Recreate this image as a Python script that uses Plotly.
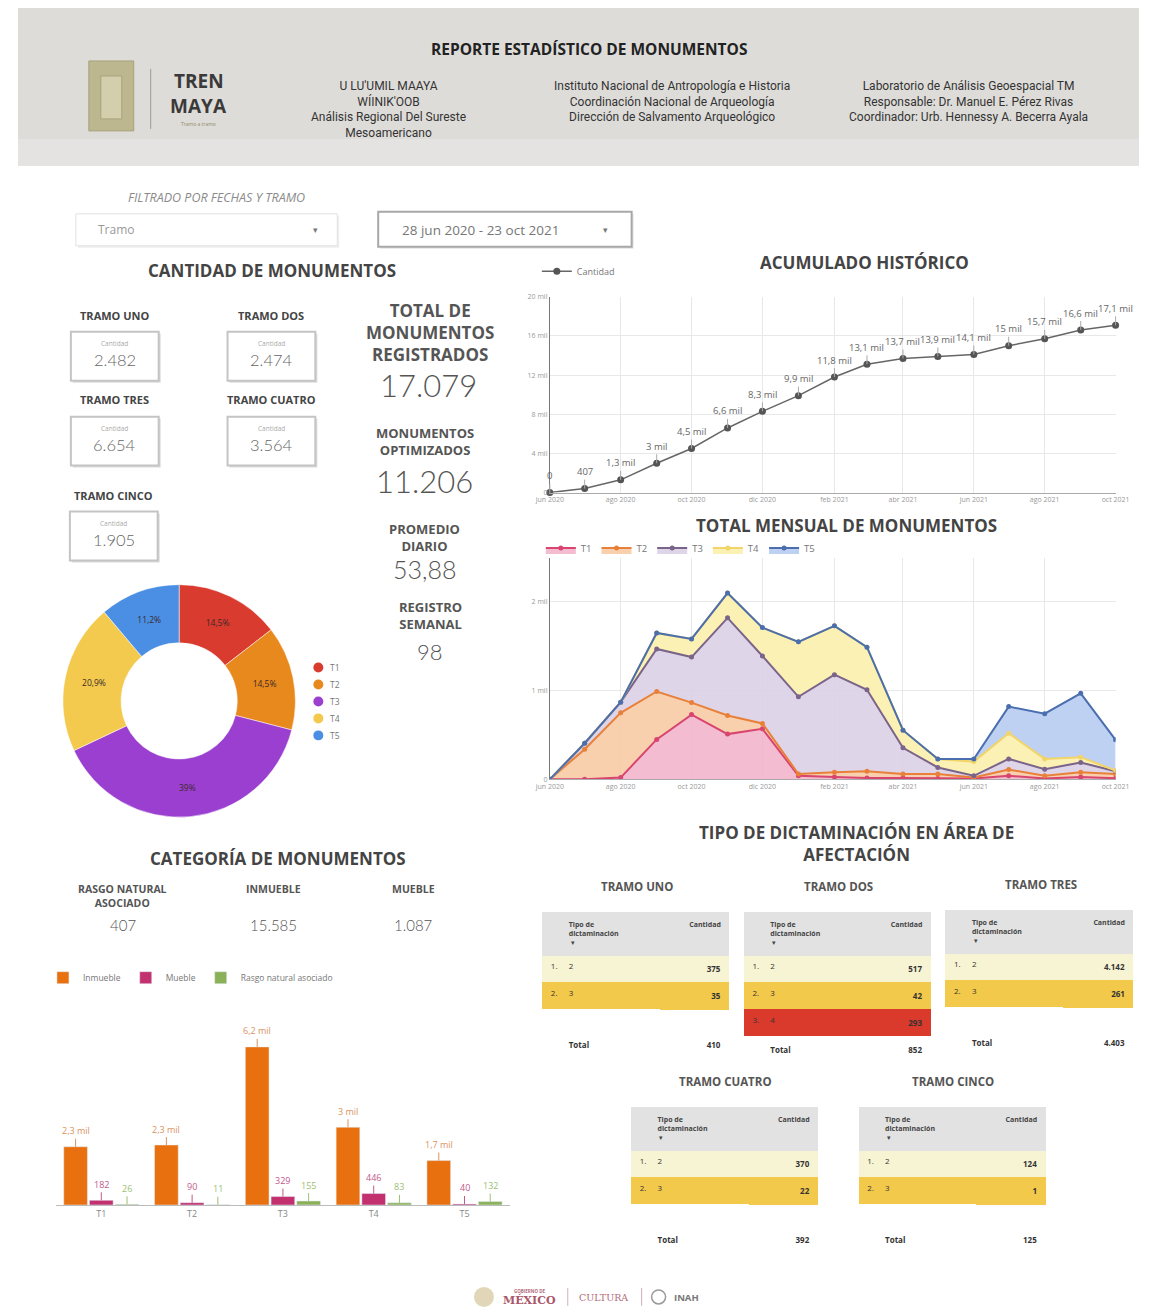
import plotly.graph_objects as go

W, H = 1153, 1315
# observed placement of the page inside the returned picture (offset / scale)
OX, SX, OY, SY = 14.0, 0.977, 4.0, 0.994


def X(p):
    return min(1.0, max(0.0, (p - OX) / SX / W))


def Y(p):
    return min(1.0, max(0.0, 1 - (p - OY) / SY / H))


# ---------------- DATA ----------------
MONTHS = ["2020-06-01", "2020-07-01", "2020-08-01", "2020-09-01", "2020-10-01",
          "2020-11-01", "2020-12-01", "2021-01-01", "2021-02-01", "2021-03-01",
          "2021-04-01", "2021-05-01", "2021-06-01", "2021-07-01", "2021-08-01",
          "2021-09-01", "2021-10-01"]
TICK_MONTHS = ["2020-06-01", "2020-08-01", "2020-10-01", "2020-12-01", "2021-02-01",
               "2021-04-01", "2021-06-01", "2021-08-01", "2021-10-01"]
TICK_LABELS = ["jun 2020", "ago 2020", "oct 2020", "dic 2020", "feb 2021",
               "abr 2021", "jun 2021", "ago 2021", "oct 2021"]

CUMULATIVE = [0, 407, 1300, 3000, 4500, 6600, 8300, 9900, 11800, 13100,
              13700, 13900, 14100, 15000, 15700, 16600, 17079]

T1 = [0, 0, 20, 450, 730, 510, 570, 40, 25, 15, 15, 10, 10, 40, 10, 25, 12]
T2 = [0, 340, 730, 540, 135, 210, 60, 20, 55, 75, 45, 50, 10, 70, 30, 55, 49]
T3 = [0, 67, 120, 480, 513, 1100, 760, 870, 1100, 920, 295, 74, 20, 120, 75, 110, 30]
T4 = [0, 0, 0, 180, 205, 280, 320, 620, 550, 480, 199, 96, 160, 290, 115, 60, 9]
T5 = [0, 0, 0, 0, 0, 0, 0, 0, 0, 0, 0, 0, 30, 300, 510, 720, 345]

TRAMOS = ["T1", "T2", "T3", "T4", "T5"]
TRAMO_NAMES = ["TRAMO UNO", "TRAMO DOS", "TRAMO TRES", "TRAMO CUATRO", "TRAMO CINCO"]
TRAMO_TOTALS = [2482, 2474, 6654, 3564, 1905]

TOTAL_REGISTRADOS = 17079
OPTIMIZADOS = 11206
PROMEDIO_DIARIO = "53,88"
REGISTRO_SEMANAL = 98

CAT_NAMES = ["RASGO NATURAL<br>ASOCIADO", "INMUEBLE", "MUEBLE"]
CAT_TOTALS = [407, 15585, 1087]

INMUEBLE = [2274, 2340, 6170, 3035, 1733]
MUEBLE = [182, 90, 329, 446, 40]
RASGO = [26, 11, 155, 83, 132]

DICT_TABLES = [
    ("TRAMO UNO", ["2", "3"], [375, 35], 410),
    ("TRAMO DOS", ["2", "3", "4"], [517, 42, 293], 852),
    ("TRAMO TRES", ["2", "3"], [4142, 261], 4403),
    ("TRAMO CUATRO", ["2", "3"], [370, 22], 392),
    ("TRAMO CINCO", ["2", "3"], [124, 1], 125),
]

# ---------------- STYLE ----------------
PIE_COLORS = ["#d93b2e", "#e8891d", "#9a3fcf", "#f3c94e", "#4a8fe4"]
AREA_LINE = ["#d8456f", "#e8803a", "#7b6489", "#f1d46a", "#4b6fae"]
AREA_FILL = ["rgba(241,176,200,0.85)", "rgba(247,200,160,0.85)", "rgba(220,208,230,0.9)",
             "rgba(251,240,176,0.95)", "rgba(188,207,241,0.95)"]
BAR_COLORS = ["#e8700f", "#c2306e", "#8bb158"]
LABEL_COLORS = ["#d9935f", "#c2588a", "#9cc070"]
HEAD_FONT = "Open Sans"
NUM_FONT = "Lato"
GRAY = "#555555"
BARGAP = 0.15


def fmt_int(v):
    return f"{v:,}".replace(",", ".")


def fmt_mil(v):
    if v < 1000:
        return str(v)
    s = f"{v / 1000:.1f}".replace(".", ",")
    if s.endswith(",0"):
        s = s[:-2]
    return s + " mil"


fig = go.Figure()

# ---------------- cumulative line ----------------
fig.add_trace(go.Scatter(
    x=MONTHS, y=CUMULATIVE, mode="lines+markers", name="Cantidad",
    line=dict(color="#666666", width=1.5), marker=dict(color="#555555", size=7),
    xaxis="x", yaxis="y", legend="legend", cliponaxis=False))

# ---------------- stacked area ----------------
for name, vals, lc, fc in zip(TRAMOS, [T1, T2, T3, T4, T5], AREA_LINE, AREA_FILL):
    fig.add_trace(go.Scatter(
        x=MONTHS, y=vals, mode="lines+markers", name=name, stackgroup="one",
        line=dict(color=lc, width=2), marker=dict(color=lc, size=5),
        fillcolor=fc, xaxis="x2", yaxis="y2", legend="legend2"))

# ---------------- grouped bars ----------------
for name, vals, col in zip(["Inmueble", "Mueble", "Rasgo natural asociado"],
                           [INMUEBLE, MUEBLE, RASGO], BAR_COLORS):
    fig.add_trace(go.Bar(x=TRAMOS, y=vals, name=name, marker_color=col,
                         xaxis="x3", yaxis="y3", legend="legend3"))

# ---------------- donut ----------------
fig.add_trace(go.Pie(
    labels=TRAMOS, values=TRAMO_TOTALS, hole=0.5, sort=False, direction="clockwise",
    marker=dict(colors=PIE_COLORS, line=dict(color="white", width=0.5)),
    texttemplate="%{percent:.3~p}", textposition="inside", insidetextorientation="horizontal",
    textfont=dict(size=8.5, color="#3a2a2a", family=HEAD_FONT),
    domain=dict(x=[X(62), X(295)], y=[Y(818), Y(583)]), showlegend=False))

# ---------------- tables ----------------
TABLE_BOXES = [(543, 730, 912), (745, 932, 912), (947, 1135, 910), (632, 819, 1107), (860, 1047, 1107)]
ROW_FILLS = ["#f7f4d3", "#f3c94c", "#d93a2b"]
for (title, types, counts, total), (x0, x1, y0) in zip(DICT_TABLES, TABLE_BOXES):
    nums = [f"{i + 1}." for i in range(len(types))]
    pad = 3 - len(types)
    col_n = nums + [""] * pad + [""]
    col_t = types + [""] * pad + ["<b>Total</b>"]
    col_c = [f"<b>{fmt_int(c)}</b>" for c in counts] + [""] * pad + [f"<b>{fmt_int(total)}</b>"]
    fills = ROW_FILLS[:len(types)] + ["white"] * pad + ["white"]
    fig.add_trace(go.Table(
        domain=dict(x=[X(x0), X(x1)], y=[Y(y0 + 150), Y(y0)]),
        columnwidth=[18, 100, 69],
        header=dict(values=["", "<b>Tipo de<br>dictaminación</b><br> ▾", "<b>Cantidad</b>"],
                    fill_color="#e2e2e2", align=["left", "left", "right"], height=40,
                    line=dict(color="#e2e2e2", width=1),
                    font=dict(size=7, color="#444", family=HEAD_FONT)),
        cells=dict(values=[col_n, col_t, col_c], fill_color=[fills, fills, fills],
                   align=["left", "left", "right"], height=22,
                   line=dict(color=[fills, fills, fills], width=1),
                   font=dict(size=8, color="#333", family=HEAD_FONT))))

# ---------------- layout ----------------
ann = []
shapes = []


def txt(x, y, text, size=10, color=GRAY, bold=False, family=HEAD_FONT, xanchor="center",
        weight=None, italic=False, yanchor="middle"):
    f = dict(size=size, color=color, family=family)
    if weight is not None:
        f["weight"] = weight
    elif bold:
        f["weight"] = "bold"
    if italic:
        f["style"] = "italic"
    ann.append(dict(x=X(x), y=Y(y), xref="paper", yref="paper", text=text, showarrow=False,
                    xanchor=xanchor, yanchor=yanchor, font=f))


def rect(x0, y0, x1, y1, fill="white", line="rgba(0,0,0,0)", lw=1, layer="below"):
    shapes.append(dict(type="rect", xref="paper", yref="paper", x0=X(x0), x1=X(x1),
                       y0=Y(y1), y1=Y(y0), fillcolor=fill, line=dict(color=line, width=lw),
                       layer=layer))


# header
rect(17, 7, 1153, 165, fill="#dedcd9")
rect(17, 138, 1153, 165, fill="#e4e3e1")
txt(589, 48, "REPORTE ESTADÍSTICO DE MONUMENTOS", 15.5, "#222", bold=True)
shapes.append(dict(type="rect", xref="paper", yref="paper", x0=X(88), x1=X(133), y0=Y(130), y1=Y(60),
                   fillcolor="#bdb78f", line=dict(color="#a9a37c", width=1), layer="above"))
shapes.append(dict(type="rect", xref="paper", yref="paper", x0=X(100), x1=X(121), y0=Y(118), y1=Y(75),
                   fillcolor="#d3ceac", line=dict(color="#a9a37c", width=1), layer="above"))
shapes.append(dict(type="line", xref="paper", yref="paper", x0=X(150), x1=X(150), y0=Y(128), y1=Y(68),
                   line=dict(color="#9a9a9a", width=1)))
txt(198, 80, "TREN", 19, "#3a3a3a", bold=True)
txt(198, 105, "MAYA", 19, "#3a3a3a", bold=True)
txt(198, 123, "Tramo a tramo", 5, "#8f8a66")
txt(388, 109, "U LU'UMIL MAAYA<br>WÍINIK'OOB<br>Análisis Regional Del Sureste<br>Mesoamericano",
    12, "#333", family="Roboto")
txt(672, 101, "Instituto Nacional de Antropología e Historia<br>Coordinación Nacional de Arqueología"
    "<br>Dirección de Salvamento Arqueológico", 12, "#333", family="Roboto")
txt(970, 101, "Laboratorio de Análisis Geoespacial TM<br>Responsable: Dr. Manuel E. Pérez Rivas"
    "<br>Coordinador: Urb. Hennessy A. Becerra Ayala", 12, "#333", family="Roboto")

# filters
txt(216, 197, "FILTRADO POR FECHAS Y TRAMO", 12.5, "#8a8a8a", italic=True)
rect(77, 215, 339, 247, fill="#efefef")
rect(75, 213, 337, 245, fill="white", line="#e2e2e2")
txt(95, 229, "Tramo", 12, "#999", xanchor="left")
txt(315, 229, "▾", 9, "#777")
rect(380, 213, 634, 248, fill="#e6e6e6")
rect(378, 211, 632, 246, fill="white", line="#a8a8a8", lw=2)
txt(400, 229, "28 jun 2020 - 23 oct 2021", 13.5, "#777", xanchor="left")
txt(606, 229, "▾", 9, "#777")

# cantidad de monumentos
txt(272, 270, "CANTIDAD DE MONUMENTOS", 17, "#444", bold=True)
CARD_POS = [(114, 315, 331), (271, 315, 331), (114, 399, 416), (271, 399, 416), (113, 495, 511)]
for name, tot, (cx, ly, by) in zip(TRAMO_NAMES, TRAMO_TOTALS, CARD_POS):
    txt(cx, ly, name, 11, "#444", bold=True)
    rect(cx - 42, by + 2, cx + 46, by + 51, fill="#dcdcdc")
    rect(cx - 44, by, cx + 44, by + 49, fill="white", line="#c4c4c4", lw=2)
    txt(cx, by + 12, "Cantidad", 6.5, "#aaa")
    txt(cx, by + 28, fmt_int(tot), 16.5, "#666", family=NUM_FONT, weight=300)

# KPI column
txt(430, 332, "TOTAL DE<br>MONUMENTOS<br>REGISTRADOS", 17, "#555", bold=True)
txt(428, 384, fmt_int(TOTAL_REGISTRADOS), 31, "#555", family=NUM_FONT, weight=300)
txt(425, 441, "MONUMENTOS<br>OPTIMIZADOS", 13, "#555", bold=True)
txt(424, 480, fmt_int(OPTIMIZADOS), 31, "#555", family=NUM_FONT, weight=300)
txt(424, 537, "PROMEDIO<br>DIARIO", 13, "#555", bold=True)
txt(424, 568, PROMEDIO_DIARIO, 25, "#555", family=NUM_FONT, weight=300)
txt(430, 615, "REGISTRO<br>SEMANAL", 13, "#555", bold=True)
txt(430, 651, str(REGISTRO_SEMANAL), 22, "#555", family=NUM_FONT, weight=300)

# pie legend (manual circles)
for i, (name, col) in enumerate(zip(TRAMOS, PIE_COLORS)):
    yy = 667 + i * 17
    shapes.append(dict(type="circle", xref="paper", yref="paper", x0=X(313), x1=X(323),
                       y0=Y(yy + 5), y1=Y(yy - 5), fillcolor=col, line=dict(width=0)))
    txt(328, yy, name, 8.5, "#777", xanchor="left")

# chart titles
txt(865, 262, "ACUMULADO HISTÓRICO", 17, "#444", bold=True)
txt(847, 525, "TOTAL MENSUAL DE MONUMENTOS", 17, "#444", bold=True)
txt(278, 858, "CATEGORÍA DE MONUMENTOS", 17, "#444", bold=True)
txt(857, 843, "TIPO DE DICTAMINACIÓN EN ÁREA DE<br>AFECTACIÓN", 17, "#444", bold=True)

# category KPIs
for name, tot, cx in zip(CAT_NAMES, CAT_TOTALS, [122, 273, 413]):
    ann.append(dict(x=X(cx), y=Y(880), xref="paper", yref="paper", text=name, showarrow=False,
                    xanchor="center", yanchor="top",
                    font=dict(size=10.5, color="#555", family=HEAD_FONT, weight="bold")))
    txt(cx, 925, fmt_int(tot), 15, "#555", family=NUM_FONT, weight=300)

# table titles
for (title, _, _, _), (x0, x1, y0) in zip(DICT_TABLES, TABLE_BOXES):
    txt((x0 + x1) / 2 + 1, y0 - 26, title, 11.5, "#555", bold=True)

# cumulative labels with stems
for m, v in zip(MONTHS, CUMULATIVE):
    ann.append(dict(x=m, y=v, xref="x", yref="y", text=fmt_mil(v), showarrow=True,
                    arrowhead=0, arrowwidth=1, arrowcolor="#aaaaaa", ax=0, ay=-17,
                    font=dict(size=9.5, color="#666", family=HEAD_FONT)))

# bar labels with stems (centre of each bar inside its group)
slot = (1 - BARGAP) / 3
for k, (vals, lc) in enumerate(zip([INMUEBLE, MUEBLE, RASGO], LABEL_COLORS)):
    off = (k - 1) * slot
    for i, v in enumerate(vals):
        ann.append(dict(x=i + off, y=v, xref="x3", yref="y3", text=fmt_mil(v), showarrow=True,
                        arrowhead=0, arrowwidth=1, arrowcolor=lc, ax=0, ay=-16,
                        font=dict(size=9, color=lc, family=HEAD_FONT)))

# footer
shapes.append(dict(type="circle", xref="paper", yref="paper", x0=X(474), x1=X(494),
                   y0=Y(1307), y1=Y(1287), fillcolor="#e2d6b8", line=dict(width=0)))
txt(530, 1291, "GOBIERNO DE", 4.5, "#b06a7a", bold=True)
txt(530, 1300, "MÉXICO", 11, "#a9566a", family="DejaVu Serif", bold=True)
shapes.append(dict(type="line", xref="paper", yref="paper", x0=X(568), x1=X(568), y0=Y(1306), y1=Y(1288),
                   line=dict(color="#d0b0b8", width=1)))
txt(604, 1298, "CULTURA", 9.5, "#b06a7a", family="DejaVu Serif")
shapes.append(dict(type="line", xref="paper", yref="paper", x0=X(642), x1=X(642), y0=Y(1306), y1=Y(1288),
                   line=dict(color="#d0b0b8", width=1)))
shapes.append(dict(type="circle", xref="paper", yref="paper", x0=X(652), x1=X(666),
                   y0=Y(1304), y1=Y(1290), fillcolor="white", line=dict(color="#9a9a9a", width=1.5)))
txt(687, 1298, "INAH", 9.5, "#777", bold=True)

axis_font = dict(size=7, color="#999", family=HEAD_FONT)
fig.update_layout(
    width=W, height=H, margin=dict(l=0, r=0, t=0, b=0, pad=0),
    paper_bgcolor="white", plot_bgcolor="white", separators=",.",
    font=dict(family=HEAD_FONT, color=GRAY),
    annotations=ann, shapes=shapes,
    barmode="group", bargap=BARGAP, bargroupgap=0.08,
    xaxis=dict(domain=[X(550), X(1117)], anchor="y", type="date",
               range=[MONTHS[0], MONTHS[-1]], tickvals=TICK_MONTHS, ticktext=TICK_LABELS,
               tickfont=axis_font, showgrid=True, gridcolor="#e8e8e8", showline=True,
               linecolor="#aaa", zeroline=False, ticks=""),
    yaxis=dict(domain=[Y(492), Y(296)], anchor="x", range=[0, 20000],
               tickvals=[0, 4000, 8000, 12000, 16000, 20000],
               ticktext=[fmt_mil(v) for v in [0, 4000, 8000, 12000, 16000, 20000]],
               tickfont=axis_font, gridcolor="#e8e8e8", showline=True, linecolor="#777",
               zeroline=False),
    xaxis2=dict(domain=[X(550), X(1117)], anchor="y2", type="date",
                range=[MONTHS[0], MONTHS[-1]], tickvals=TICK_MONTHS, ticktext=TICK_LABELS,
                tickfont=axis_font, showgrid=True, gridcolor="#e8e8e8", showline=True,
                linecolor="#aaa", zeroline=False),
    yaxis2=dict(domain=[Y(779), Y(557)], anchor="x2", range=[0, 2500],
                tickvals=[0, 1000, 2000], ticktext=["0", "1 mil", "2 mil"],
                tickfont=axis_font, gridcolor="#e8e8e8", showline=True, linecolor="#777",
                zeroline=False),
    xaxis3=dict(domain=[X(55), X(510)], anchor="y3", type="category",
                tickfont=dict(size=9, color="#888", family=HEAD_FONT), showline=True,
                linecolor="#bbb", showgrid=False),
    yaxis3=dict(domain=[Y(1205), Y(1005)], anchor="x3", range=[0, 7800], visible=False),
    legend=dict(x=X(537), y=Y(256), xanchor="left", yanchor="top", orientation="h",
                font=dict(size=9, color="#777"), bgcolor="rgba(0,0,0,0)"),
    legend2=dict(x=X(541), y=Y(533), xanchor="left", yanchor="top", orientation="h",
                 font=dict(size=9.5, color="#777"), bgcolor="rgba(0,0,0,0)",
                 traceorder="normal", itemwidth=30),
    legend3=dict(x=X(42), y=Y(963), xanchor="left", yanchor="top", orientation="h",
                 font=dict(size=8.5, color="#777"), bgcolor="rgba(0,0,0,0)", traceorder="normal"),
)

fig.write_html("out.html")
